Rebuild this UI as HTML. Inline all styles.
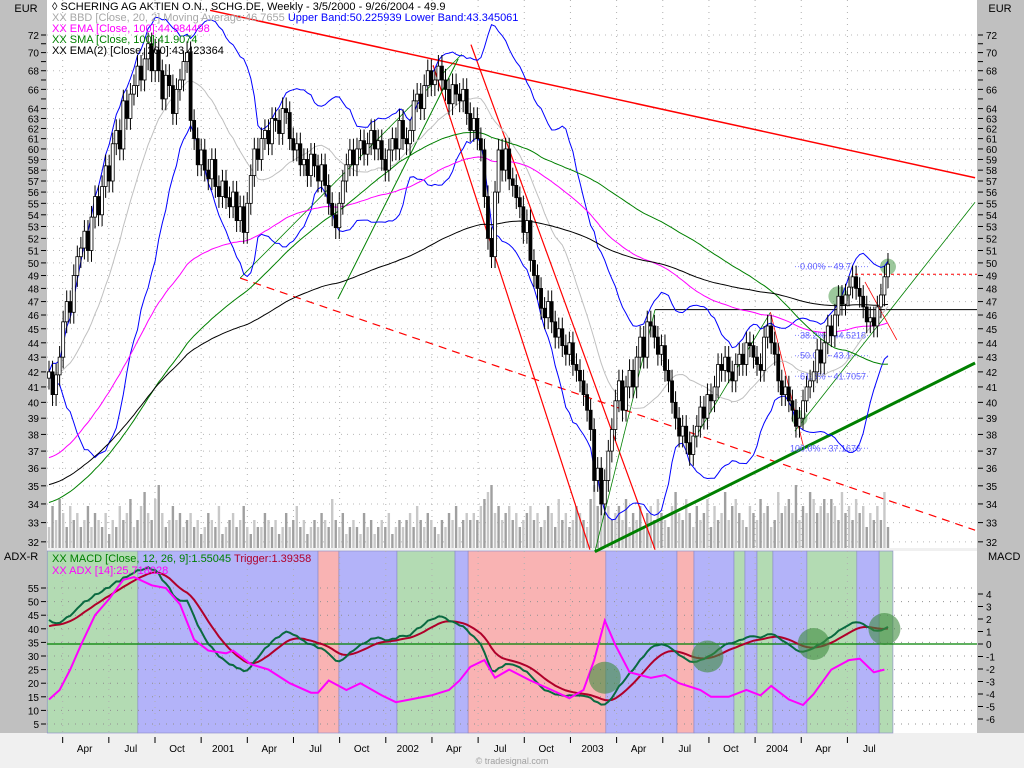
<!DOCTYPE html>
<html><head><meta charset="utf-8"><style>
html,body{margin:0;padding:0;background:#f0f0f0;}
svg{display:block;font-family:"Liberation Sans",sans-serif;}
</style></head><body>
<svg id="chart" width="1024" height="768" viewBox="0 0 1024 768" xmlns="http://www.w3.org/2000/svg">
<rect x="0" y="0" width="1024" height="768" fill="#f0f0f0"/>
<rect x="0" y="0" width="47" height="733" fill="#c0c0c0"/>
<rect x="977" y="0" width="47" height="733" fill="#c0c0c0"/>
<rect x="47" y="0" width="930" height="548" fill="#ffffff"/>
<rect x="47" y="551" width="930" height="182" fill="#ffffff"/>
<g id="bgRegions"></g>
<g id="grid"></g>
<g id="volume"></g>
<g id="annot"></g>
<g id="mas"></g>
<g id="candles"></g>
<g id="lower"></g>
<g id="axes"></g>
<text x="26" y="12" font-size="11" fill="#000" text-anchor="middle">EUR</text>
<text x="1000" y="12" font-size="11" fill="#000" text-anchor="middle">EUR</text>
<text x="4" y="560" font-size="11" fill="#000">ADX-R</text>
<text x="988" y="560" font-size="11" fill="#000">MACD</text>
<g font-size="11">
<text x="52" y="10" fill="#000">◊ SCHERING AG AKTIEN O.N., SCHG.DE, Weekly - 3/5/2000 - 9/26/2004 - 49.9</text>
<text x="52" y="21"><tspan fill="#a8a8a8">XX BBD [Close, 20, 2] Moving Average:46.7655 </tspan><tspan fill="#0000ff">Upper Band:50.225939 Lower Band:43.345061</tspan></text>
<text x="52" y="32" fill="#ff00ff">XX EMA [Close, 100]:44.984498</text>
<text x="52" y="43" fill="#008000">XX SMA [Close, 100]:41.9074</text>
<text x="52" y="54" fill="#000">XX EMA(2) [Close, 200]:43.423364</text>
<text x="52" y="562" fill="#008000">XX MACD [Close, 12, 26, 9]:1.55045 <tspan fill="#b0002a">Trigger:1.39358</tspan></text>
<text x="52" y="574" fill="#ff00ff">XX ADX [14]:25.718028</text>
</g>
<text x="512" y="764" font-size="9" fill="#a0a0a0" text-anchor="middle">© tradesignal.com</text>
</svg>
<script>
const closes=[42.0,40.5,41.8,43.0,45.5,47.0,46.2,49.0,50.5,51.2,
52.6,51.0,53.8,55.6,54.0,56.5,58.4,57.0,60.5,61.8,
60.0,64.8,63.0,65.5,66.4,68.5,67.0,69.3,71.0,68.0,
70.3,68.0,65.0,67.5,66.4,63.5,66.0,67.0,69.0,70.0,
62.8,61.0,58.5,59.9,58.0,57.2,59.0,56.5,55.6,57.0,
55.5,54.7,56.0,53.5,54.7,52.5,55.0,57.5,60.0,59.0,
61.0,61.8,60.5,63.0,62.8,61.5,64.0,63.6,61.0,59.9,
60.5,58.5,59.0,57.5,59.5,58.4,57.0,58.5,56.6,55.0,
54.0,52.9,55.0,57.0,58.5,59.9,58.5,60.0,60.8,59.5,
60.5,61.8,60.0,60.8,59.0,58.0,59.9,61.0,60.0,62.8,
61.0,60.5,61.8,64.8,65.5,64.0,66.4,68.0,66.5,67.0,
68.5,67.0,66.0,64.5,66.5,65.5,64.8,66.0,63.5,61.8,
63.0,61.0,59.9,55.6,52.0,50.5,56.0,59.9,58.0,60.0,
57.2,56.6,55.5,54.7,52.5,53.5,50.2,49.0,48.0,46.5,
45.8,47.0,45.5,44.4,45.0,43.8,43.2,44.0,42.5,42.1,
41.4,40.5,39.5,38.3,35.3,36.0,34.0,35.3,37.0,38.3,
40.1,41.4,39.5,41.0,42.1,41.0,43.0,44.4,43.0,45.5,
45.2,44.4,43.2,43.8,42.1,41.4,40.0,39.0,37.9,38.5,
37.5,36.8,37.9,38.5,39.7,39.0,40.5,40.1,41.0,42.5,
42.1,43.0,42.0,41.4,42.5,43.2,42.5,44.0,43.8,43.0,
42.5,42.1,44.4,45.2,44.0,43.2,41.4,40.5,41.0,40.1,
39.5,38.5,39.0,40.1,41.0,41.4,42.0,43.5,42.6,44.0,
45.2,44.5,46.0,47.4,46.8,47.5,48.1,48.9,48.0,47.4,
46.6,45.5,45.8,45.2,46.6,47.5,48.9,49.9];
const volumes=[3,6,4,7,5,3,6,4,5,3,4,6,3,5,4,3,5,2,4,3,
6,4,5,7,3,4,6,8,5,4,7,9,5,3,4,6,4,5,3,4,
5,3,4,2,3,5,4,3,6,2,3,4,5,3,4,6,3,2,4,3,
3,5,4,3,4,2,3,5,3,4,6,3,4,2,3,4,3,5,4,3,
7,4,3,5,2,3,4,3,2,5,3,4,2,3,4,3,5,2,3,4,
3,4,5,3,6,4,3,5,4,3,2,4,3,5,4,6,3,4,5,4,
5,4,6,7,8,9,5,6,4,5,6,4,5,3,4,5,6,4,5,3,
4,6,5,3,7,4,5,3,4,6,5,4,3,7,9,6,8,5,6,4,
5,6,4,7,3,5,4,6,3,5,6,4,7,5,4,3,6,8,5,4,
7,5,3,6,4,5,7,3,6,4,5,8,4,6,7,5,4,3,6,5,
4,7,5,6,3,4,8,5,6,7,5,9,4,6,5,8,7,5,6,7,
5,7,6,4,8,5,6,4,7,5,6,3,5,4,6,4,8,3];
const adxWeeks=[0,3,6,9,13,17,21,24,29,33,37,41,45,50,52,57,62,68,74,76,79,84,88,94,98,102,108,113,116,119,123,126,130,136,142,147,151,154,157,160,164,170,174,178,184,187,192,197,201,204,209,213,216,221,226,229,233,236];
const adxValues=[14,17.5,25,34,45,51,58,59,56,55,49,36,32,31,32,27,25,20,16.5,16.5,21,17.5,20,15.5,13,14,15.5,17.5,21,26,28.5,22,25,21,17.5,14.5,17.5,28.5,43,34,24,22,23,20,17.5,15,15,17.5,15.5,19,14,12,16,25,28.5,29,24,25];
const regionStarts=[-0.5,25.1,76,81.9,98.3,114.7,118.4,157.3,177.4,182.2,193.5,196.6,200,204.5,214.1,228.2,234.5];
const regionTypes=["up","flat","down","flat","up","flat","down","flat","down","flat","up","flat","up","flat","up","flat","up"];
const regionEnd=238.4;
const tickLabels=["Apr","Jul","Oct","2001","Apr","Jul","Oct","2002","Apr","Jul","Oct","2003","Apr","Jul","Oct","2004","Apr","Jul"];
const firstTickWeek=3.86, quarterWeeks=13.04;
// trend lines: [week1, price1, week2, price2, color, width, dash]
const trendLines=[
[45.5,74.9,261.6,57.3,"#ff0000",1.5,""],
[54,48.8,261.6,32.6,"#ff0000",1.2,"8,6"],
[154.2,31.5,261.6,42.6,"#008000",3,""],
[108.5,68.6,152.8,31.6,"#ff0000",1.2,""],
[119.2,70.9,171.2,31.6,"#ff0000",1.2,""],
[81.6,47.2,115.6,69.3,"#008000",1,""],
[54,48.8,116.6,69.8,"#008000",0.8,""],
[154.2,31.5,171.2,46.4,"#008000",0.8,""],
[181.1,37.3,203.8,46.2,"#008000",0.8,""],
[210.7,38.2,261.6,55.1,"#008000",0.8,""],
[203.8,46.2,213.1,37.3,"#ff0000",0.8,""],
[230.5,48.5,239.5,44.2,"#ff0000",0.8,""]
];
const NS="http://www.w3.org/2000/svg";
function X(w){return 49+3.54*w;}
function Y(p){return 35+625*Math.log(72/p);}
function YM(m){return 644-12.5*m;}
function YA(v){return 588+(55-v)*2.72;}
function mk(tag,attrs,parent){const e=document.createElementNS(NS,tag);for(const k in attrs)e.setAttribute(k,attrs[k]);parent.appendChild(e);return e;}
const g=id=>document.getElementById(id);
// regions
const regColor={up:"#b3dbb3",flat:"#b3b3f9",down:"#f9b3b3"};
regionStarts.forEach((s,i)=>{const e=i+1<regionStarts.length?regionStarts[i+1]:regionEnd;
const r=mk("rect",{x:X(s),y:551,width:X(e)-X(s),height:182,fill:regColor[regionTypes[i]],stroke:"#8888c8","stroke-width":0.6},g("bgRegions"));

});
// grid
for(let p=32;p<=72;p++){if(p>64&&p%2)continue;const y=Y(p);
const l=mk("line",{x1:47,x2:977,y1:y,y2:y,stroke:"#b8b8b8","stroke-dasharray":"1,5"},g("grid"));

}
for(let v=5;v<=55;v+=5){const y=YA(v);
const l=mk("line",{x1:47,x2:977,y1:y,y2:y,stroke:"#909090","stroke-dasharray":"1,6"},g("grid"));

}
tickLabels.forEach((t,k)=>{const x=X(firstTickWeek+quarterWeeks*k);
[[0,548],[551,733]].forEach(r=>{const l=mk("line",{x1:x,x2:x,y1:r[0],y2:r[1],stroke:"#b0b0b0","stroke-dasharray":"1,5"},g("grid"));

});
for(let m=1;m<=2;m++){}
});
// volume
volumes.forEach((v,i)=>{const h=v*7;
const r=mk("rect",{x:X(i)-1.2,y:548-h,width:2.4,height:h,fill:(i%2?"#a0a0a0":"#c8c8c8")},g("volume"));

});
// trend lines
trendLines.forEach(t=>{const l=mk("line",{x1:X(t[0]),y1:Y(t[1]),x2:X(t[2]),y2:Y(t[3]),stroke:t[4],"stroke-width":t[5]},g("annot"));
if(t[6])l.setAttribute("stroke-dasharray",t[6]);

});
const hl=mk("line",{x1:655,x2:977,y1:Y(46.4),y2:Y(46.4),stroke:"#000","stroke-width":1},g("annot"));


const hl2=mk("line",{x1:855,x2:977,y1:Y(49.1),y2:Y(49.1),stroke:"#ff0000","stroke-dasharray":"3,3"},g("annot"));


// fibonacci
const fibLevels=[["0.00% - 49.7","49.7"],["38.2% - 44.5218","44.5218"],["50.0% - 43.1","43.1"],["61.8% - 41.7057","41.7057"],["100.0% - 37.1676","37.1676"]];
fibLevels.forEach(f=>{const p=parseFloat(f[1]);const y=Y(p);
const l=mk("line",{x1:795,x2:870,y1:y,y2:y,stroke:"#8080ff","stroke-dasharray":"1,2"},g("annot"));


const t=mk("text",{x:p>45?800:(p<38?790:800),y:y+3,"font-size":9,fill:"#6060ff"},g("annot"));t.textContent=f[0];

});
// moving averages
function path(pts){return pts.map((p,i)=>(i?"L":"M")+p[0].toFixed(1)+","+p[1].toFixed(1)).join("");}
const ema100=[],ema200=[],sma100=[],bbU=[],bbL=[],bbM=[];
let e1=36.5,e2=35;
closes.forEach((c,i)=>{e1=e1+(c-e1)*2/101;e2=e2+(c-e2)*2/201;ema100.push(e1);ema200.push(e2);
let s=0;for(let k=i-99;k<=i;k++)s+=k>=0?closes[k]:34;sma100.push(s/100);
let a=[];for(let k=i-19;k<=i;k++)a.push(k>=0?closes[k]:closes[0]);
const m=a.reduce((x,y)=>x+y)/20;const sd=Math.sqrt(a.reduce((x,y)=>x+(y-m)*(y-m),0)/20);
bbM.push(m);bbU.push(m+2*sd);bbL.push(m-2*sd);});
[[bbM,"#c0c0c0","bb-middle"],[bbU,"#0000ff","bb-upper"],[bbL,"#0000ff","bb-lower"],[ema100,"#ff00ff","ema-100-line"],[sma100,"#008000","sma-100-line"],[ema200,"#000000","ema-200-line"]].forEach(s=>{
const p=mk("path",{d:path(s[0].map((v,i)=>[X(i),Math.min(548,Y(v))])),fill:"none",stroke:s[1],"stroke-width":1},g("mas"));

});
// candles
closes.forEach((c,i)=>{const o=i?closes[i-1]:c*0.99;const hi=Math.max(o,c)*1.018,lo=Math.min(o,c)*0.982;const x=X(i);
const w=mk("line",{x1:x,x2:x,y1:Y(hi),y2:Y(lo),stroke:"#000","stroke-width":1},g("candles"));


const top=Y(Math.max(o,c)),bot=Y(Math.min(o,c));
const b=mk("rect",{x:x-1.5,y:top,width:3,height:Math.max(1,bot-top),fill:c>=o?"#fff":"#000",stroke:"#000","stroke-width":0.8},g("candles"));

});
// price circles
[[223,47.4,10],[237,49.7,8],[212,39,8]].forEach(c=>{const e=mk("circle",{cx:X(c[0]),cy:Y(c[1]),r:c[2],fill:"#4a9a4a","fill-opacity":0.55},g("annot"));

});
// MACD
let f12=41,f26=39;const macd=[],trig=[];let tg=1.3;
closes.forEach(c=>{f12+= (c-f12)*2/13;f26+=(c-f26)*2/27;const m=f12-f26;macd.push(m);tg+=(m-tg)*2/10;trig.push(tg);});
const zl=mk("line",{x1:47,x2:977,y1:YM(0),y2:YM(0),stroke:"#008000","stroke-width":1.2},g("lower"));


const pt=mk("path",{d:path(trig.map((v,i)=>[X(i),YM(v)])),fill:"none",stroke:"#b0002a","stroke-width":2},g("lower"));


const pm=mk("path",{d:path(macd.map((v,i)=>[X(i),YM(v)])),fill:"none",stroke:"#0a6a40","stroke-width":2},g("lower"));


const pa=mk("path",{d:path(adxValues.map((v,i)=>[X(adxWeeks[i]),YA(v)])),fill:"none",stroke:"#ff00ff","stroke-width":2},g("lower"));


[[157,-2.7],[186,-1],[216,0],[236,1.2]].forEach(c=>{const e=mk("circle",{cx:X(c[0]),cy:YM(c[1]),r:16,fill:"#3d8a3d","fill-opacity":0.6},g("lower"));

});
// axes
const ax=g("axes");
for(let p=32;p<=72;p++){const y=Y(p);const lab=!(p>64&&p%2);
[[41,46],[978,983]].forEach(r=>{const l=mk("line",{x1:r[0],x2:r[1],y1:y,y2:y,stroke:"#000"},ax);

});
if(lab){const t=mk("text",{x:39,y:y+4,"font-size":10,"text-anchor":"end",fill:"#000"},ax);t.textContent=p;


const t2=mk("text",{x:986,y:y+4,"font-size":10,fill:"#000"},ax);t2.textContent=p;

}}
for(let v=5;v<=55;v+=5){const y=YA(v);
const l=mk("line",{x1:41,x2:46,y1:y,y2:y,stroke:"#000"},ax);


const t=mk("text",{x:39,y:y+4,"font-size":10,"text-anchor":"end"},ax);t.textContent=v;

}
for(let m=-6;m<=4;m++){const y=YM(m);
const l=mk("line",{x1:978,x2:983,y1:y,y2:y,stroke:"#000"},ax);


const t=mk("text",{x:986,y:y+4,"font-size":10},ax);t.textContent=(m<0?"-":"")+Math.abs(m);

}
tickLabels.forEach((lb,k)=>{const x=X(firstTickWeek+quarterWeeks*k);
const l=mk("line",{x1:x,x2:x,y1:737,y2:743,stroke:"#000"},ax);


const t=mk("text",{x:x+22,y:752,"font-size":10,"text-anchor":"middle"},ax);t.textContent=lb;

});
</script>
</body></html>
